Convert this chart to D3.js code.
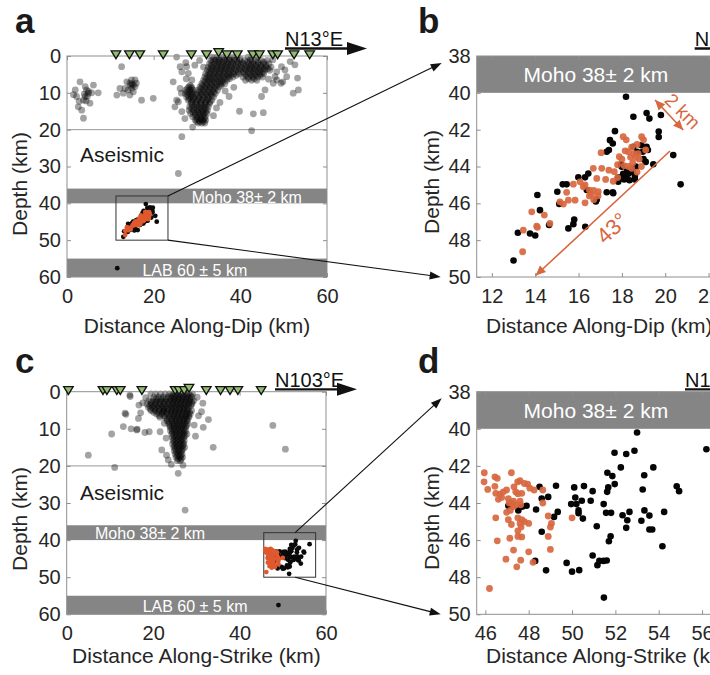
<!DOCTYPE html>
<html><head><meta charset="utf-8">
<script src="https://cdn.jsdelivr.net/npm/d3@7"></script>
<style>body{margin:0;background:#fff}svg{display:block;font-family:"Liberation Sans",Arial,Helvetica,sans-serif}</style>
</head><body><svg id="fig" width="710" height="675"></svg>
<script>
// ---------------- DATA ----------------
// stations (distance km, elevation as negative depth km)
const dipStations = [[11.3,-0.3],[14.4,-0.3],[16.8,-0.3],[22.2,-0.3],[28.7,-0.3],[32.2,-0.3],[35.0,-0.9],[36.9,-0.3],[39.3,-0.3],[42.9,-0.3],[44.4,-0.3],[47.5,-0.3],[48.6,-0.3],[52.4,-0.3],[56.0,-0.3]];
const strikeStations = [[0.4,-0.3],[8.4,-0.3],[9.3,-0.3],[11.6,-0.3],[12.4,-0.3],[17.4,-0.3],[25.1,-0.3],[26.0,-0.3],[27.2,-0.3],[28.3,-0.9],[32.3,-0.3],[35.6,-0.3],[37.8,-0.3],[39.6,-0.3],[45.0,-0.3]];

// shallow seismicity, along-dip section (scattered events)
const dipShallowScatter = [[1.5,10.5],[1.9,9.2],[2.2,11],[2.6,13.8],[3.0,7.0],[3.4,14.7],[3.8,12],[3.8,16.9],[4.2,8.3],[4.2,11],[4.5,9.2],[4.7,11],[4.9,10.1],[5.3,12.8],[5.7,10],[6.1,7.9],[7.2,10],[2.8,12.3],[4.0,10.3],[5.0,9.6],[4.4,12.2],
[11.5,10.6],[12.2,8.8],[12.6,2.9],[13.4,8.8],[13.8,7.0],[14.5,7.4],[14.9,6.5],[15.3,7.9],[15.7,8.3],[14.9,8.8],[14.1,9.2],[15.3,9.7],[15.7,6.5],[13.0,10.1],[14.5,10.6],[17.2,12],[19.9,11.5],[16.0,7.4],[14.7,8.0],[15.0,7.6],
[25.3,0.3],[24.5,7.0],[24.9,13.8],[25.7,12.4],[26.1,8.8],[26.4,10.1],[26.5,15.1],[27.6,2.9],[28.0,4.7],[28.8,6.5],[29.9,17.8],[26.1,2.9],[26.5,4.3],[27.4,1.8],[25.3,12],[26.5,21.9],[25.7,31.9],
[39.8,15],[42.6,20.3],[43.0,15.7],[45.3,15.4],[44.9,11],[45.7,9.2],[47.6,7.4],[49.5,2.9],[50.3,3.8],[50.7,5.6],[51.5,1.5],[53.2,6],[53.4,9.2],[52.2,10.1],[52.6,2.4],[48.4,4.3],[48,5.6],[49.4,7.4],[49.8,7.0],[48.4,6.5],[47.5,1.0],[46.5,6.3],[38.5,8.5],[36.5,9.5],[37.4,11.0],[35.3,12.6],[34.5,14.1],[33.8,16.2],[29.0,19.3],[27.2,17.0],[27.5,6.2],[29.5,2.5],[30.6,1.2],[31.5,3.0]];
// shallow seismicity, along-dip section (dense cluster, listed by depth row: [depth, distances])
const dipShallowRows = [
 [0.3,[33.5,34.6,35.8,36.9,38.1,39.4,41.8,43.9]],
 [1.2,[33.2,34.3,35.2,36.4,37.5,38.6,39.8,41.0,42.3,43.5,44.8,46.2]],
 [2.1,[32.9,34.0,35.1,36.2,37.2,38.3,39.5,40.7,41.9,43.0,44.1,45.3,46.6]],
 [3.0,[32.6,33.7,34.7,35.8,36.9,38.0,39.2,40.4,41.6,42.7,43.8,44.9,46.0,47.1]],
 [3.9,[32.4,33.4,34.5,35.6,36.7,37.8,38.9,40.1,41.3,42.4,43.5,44.6,45.7,46.8]],
 [4.8,[32.0,33.1,34.2,35.3,36.4,37.5,38.5,39.7,41.0,42.2,43.3,44.4,45.4]],
 [5.7,[31.8,32.8,33.9,35.0,36.1,37.2,38.3,40.6,41.8,42.9,44.0,45.1]],
 [6.6,[31.5,32.6,33.6,34.7,35.8,36.9,41.2,42.6,43.8]],
 [7.5,[31.1,32.2,33.3,34.4,35.5,36.4]],
 [8.4,[28.1,28.7,30.7,31.8,32.9,34.0,35.1]],
 [9.3,[27.4,28.4,29.2,30.3,31.4,32.5,33.6,34.7]],
 [10.2,[27.3,28.3,29.0,29.9,31.0,32.1,33.2,34.2]],
 [11.1,[27.6,28.6,29.5,30.6,31.7,32.8,33.8]],
 [12.0,[28.0,29.0,30.1,31.2,32.4,33.4]],
 [12.9,[28.6,29.7,30.8,31.9,32.9]],
 [13.8,[28.3,29.4,30.5,31.6,32.6]],
 [14.7,[28.2,29.3,30.4,31.4,32.4]],
 [15.6,[28.5,29.6,30.6,31.6,32.3]],
 [16.5,[29.0,30.0,31.0,31.9]],
 [17.4,[29.6,30.5,31.3,32.0]],
 [18.2,[30.3,31.1,31.8]],
 [0.75,[33.9,35.0,36.2,37.4,38.6,39.9,42.4]],
 [1.65,[33.6,34.8,35.8,36.9,38.0,39.2,40.3,41.6,42.8,44.1,45.4]],
 [2.55,[33.3,34.5,35.6,36.7,37.8,38.9,40.1,41.3,42.4,43.5,44.7,45.9]],
 [3.45,[33.1,34.2,35.3,36.3,37.4,38.6,39.8,41.0,42.1,43.2,44.3,45.4,46.4]],
 [4.35,[32.8,33.9,35.0,36.1,37.2,38.3,39.5,40.7,41.8,42.9,44.0,45.1]],
 [5.25,[32.5,33.6,34.7,35.8,36.9,37.9,39.1,41.3,42.5,43.6,44.6]],
 [6.15,[32.2,33.2,34.3,35.4,36.5,37.5,41.9,43.2]],
 [7.05,[31.8,32.9,34.0,35.1,36.0]],
 [7.95,[28.4,31.3,32.4,33.5,34.6,35.6]],
 [8.85,[27.8,28.8,30.9,32.0,33.1,34.2]],
 [9.75,[27.8,28.8,30.6,31.7,32.8,33.9]],
 [10.65,[27.9,28.9,30.2,31.3,32.4,33.4]],
 [11.55,[28.2,29.2,30.3,31.4,32.5]],
 [12.45,[28.7,29.8,30.9,32.0,33.0]],
 [13.35,[28.9,30.0,31.1,32.1]],
 [14.25,[28.8,29.9,30.9,31.9]],
 [15.15,[29.0,30.1,31.1,32.0]],
 [16.05,[29.5,30.5,31.4]],
 [16.95,[30.0,30.9,31.7]],
 [17.8,[30.6,31.5]]];

// shallow seismicity, along-strike section
const strikeShallowScatter = [[14.7,1.3],[16.7,3.6],[17.1,5.7],[13.7,6.1],[13.1,9.4],[14.9,10],[16.3,10.1],[10.4,11.4],[18.1,11],[19.1,10.8],[5.0,17.1],[11.1,20.4],[33.9,15],[47.7,9.1],[50.6,15.5],[32.8,7.5],[31.6,9.6],[31.2,5.4],[31.5,3.1],[22.4,5.4],[21.6,10.8],[22.0,15.7],[23.1,17.1],[23.5,18.4],[27.4,31.9],[25.8,22],[16.6,7.2],[16.2,10.3],[13.5,5.8],[14.6,0.9],[30.2,1.5],[30.5,6.5],[29.8,12],[29.5,9],[23.0,12.5],[22.6,8.5],[24.2,19.6],[26.9,19.8],[18.3,1.6],[17.6,3.0]];
const strikeShallowRows = [
 [0.6,[19.5,20.6,21.7,22.8,23.8,24.7,25.6,26.5,27.4,28.3,29.1]],
 [1.5,[20.2,21.3,22.4,23.5,24.4,25.3,26.2,27.1,28.0,28.9]],
 [2.4,[19.0,20.0,21.0,22.0,23.0,24.0,24.9,25.8,26.7,27.6,28.5,29.4]],
 [3.3,[18.6,19.6,20.6,21.6,22.6,23.7,24.6,25.5,26.4,27.3,28.2,29.0]],
 [4.2,[18.9,19.9,20.9,21.9,22.8,23.8,24.7,25.6,26.5,27.4,28.3]],
 [5.1,[19.5,20.5,21.5,22.5,23.5,24.4,25.3,26.2,27.1,28.0,28.9]],
 [6.0,[20.8,22.0,23.2,24.2,25.1,26.0,26.9,27.8,28.6]],
 [6.9,[21.6,22.8,23.8,24.8,25.7,26.6,27.5,28.3]],
 [7.8,[23.2,24.3,25.2,26.1,27.0,27.9]],
 [8.7,[23.6,24.5,25.4,26.3,27.2,28.0]],
 [9.6,[23.9,24.8,25.7,26.6,27.5]],
 [10.5,[24.0,24.9,25.8,26.7,27.5]],
 [11.4,[24.3,25.2,26.1,27.0,27.8]],
 [12.3,[24.4,25.3,26.2,27.1]],
 [13.2,[24.6,25.5,26.4,27.2]],
 [14.1,[24.5,25.4,26.3,27.1]],
 [15.0,[24.8,25.6,26.5,27.3]],
 [15.9,[24.9,25.8,26.6]],
 [16.8,[25.1,25.9,26.7]],
 [17.7,[25.3,26.1,26.8]],
 [18.6,[25.6,26.3]],
 [1.05,[24.2,25.1,26.0,26.9,27.8,28.7]],
 [1.95,[20.7,21.8,22.9,24.0,24.9,25.8,26.7,27.6,28.5]],
 [2.85,[19.5,20.5,21.5,22.5,23.5,24.5,25.4,26.3,27.2,28.1,29.0]],
 [3.75,[19.2,20.2,21.2,22.2,23.2,24.2,25.1,26.0,26.9,27.8,28.7]],
 [4.65,[19.4,20.4,21.4,22.4,23.3,24.3,25.2,26.1,27.0,27.9]],
 [5.55,[20.1,21.1,22.1,23.1,24.0,24.9,25.8,26.7,27.6,28.4]],
 [6.45,[21.4,22.5,23.7,24.7,25.6,26.5,27.4,28.2]],
 [7.35,[23.3,24.3,25.2,26.2,27.1,27.9]],
 [8.25,[23.7,24.8,25.7,26.6,27.5]],
 [9.15,[24.0,25.0,25.9,26.8,27.7]],
 [10.05,[24.4,25.3,26.2,27.1]],
 [10.95,[24.5,25.4,26.3,27.2]],
 [11.85,[24.8,25.7,26.6,27.4]],
 [12.75,[24.9,25.8,26.7]],
 [13.65,[25.0,25.9,26.8]],
 [14.55,[25.0,25.9,26.8]],
 [15.45,[25.2,26.1,26.9]],
 [16.35,[25.4,26.3]],
 [17.25,[25.6,26.4]],
 [18.15,[25.8,26.5]]];

// deep (mantle) events along dip
const dipBlack = [[13.0,49.1],[13.2,47.6],[13.76,47.64],[14.0,47.75],[14.1,45.55],[14.22,46.37],[14.64,47.18],[15.02,45.37],[15.11,46.04],[15.27,44.97],[15.45,44.97],[15.53,47.36],[15.76,47.13],[15.8,46.88],[15.99,44.59],[16.3,44.59],[16.45,44.38],[16.31,47.27],[16.38,45.28],[16.84,45.79],[16.8,45.9],[17.3,43.2],[17.4,43.1],[17.45,42.57],[17.58,42.75],[17.68,42.08],[17.3,45.4],[17.58,45.4],[17.83,44.83],[17.83,44.6],[17.99,44.01],[18.06,44.4],[18.19,40.21],[18.2,44.65],[18.3,44.4],[18.35,44.75],[18.45,44.1],[18.53,42.93],[18.6,44.5],[18.65,44.0],[18.7,43.2],[18.96,43.2],[18.9,42.85],[19.0,43.6],[19.1,43.75],[19.14,42.93],[19.2,43.1],[18.53,41.3],[19.14,41.1],[19.27,41.4],[19.45,43.88],[19.7,42.1],[19.7,42.4],[19.8,41.2],[20.37,43.38],[20.71,44.97],[17.96,43.9],[18.25,44.2],[18.5,44.3],[17.9,44.6],[18.1,44.7],[18.6,44.7],[17.6,45.45],[11.6,57.6]];
const dipOrange = [[13.45,47.46],[13.42,48.63],[13.84,46.46],[14.07,47.24],[14.1,47.3],[14.42,46.64],[14.68,47.09],[15.14,45.92],[15.3,46.04],[15.53,45.83],[15.84,45.83],[16.3,45.97],[15.45,45.4],[15.76,44.96],[16.07,44.83],[16.22,45.1],[16.3,45.0],[16.5,45.28],[16.6,45.5],[16.7,45.3],[16.91,45.37],[16.9,45.6],[16.7,45.8],[16.5,45.6],[16.84,44.65],[16.68,44.1],[17.07,44.1],[17.25,44.7],[17.04,43.25],[17.65,44.28],[17.8,43.9],[17.88,43.47],[18.0,43.6],[18.06,42.38],[18.2,42.55],[18.15,43.15],[18.3,43.2],[18.4,43.5],[18.45,42.95],[18.55,43.3],[18.65,43.5],[18.7,42.8],[18.75,43.3],[18.8,43.6],[18.1,43.95],[18.3,44.0],[18.45,44.1],[18.5,43.8],[18.91,42.38],[19.0,42.55],[19.1,43.1],[18.9,44.0],[18.7,44.3],[17.8,44.6],[17.6,44.8],[17.4,44.2]];
// deep (mantle) events along strike
const strikeBlack = [[48.5,43.13],[48.6,43.76],[48.9,43.67],[49.26,43.07],[48.6,45.55],[47.06,44.15],[47.52,44.4],[47.7,44.2],[47.9,44.15],[48.34,44.35],[49.17,44.75],[49.34,44.48],[48.8,47.63],[48.3,47.12],[49.75,47.23],[50.0,47.7],[50.33,47.62],[50.1,43.16],[50.15,43.7],[49.96,44.06],[50.2,44.06],[50.3,44.4],[50.3,44.55],[50.45,43.88],[50.55,43.09],[50.86,43.88],[50.95,43.36],[50.5,44.84],[51.14,45.25],[50.95,46.83],[51.17,47.35],[51.26,47.12],[51.45,47.12],[51.6,47.1],[51.46,44.06],[51.57,44.53],[51.8,44.53],[51.63,42.37],[51.67,43.16],[51.62,43.4],[51.78,45.79],[51.7,46.06],[51.86,42.55],[51.96,41.29],[51.97,42.98],[51.47,49.1],[52.25,42.08],[52.33,44.66],[52.55,44.93],[52.5,41.36],[52.5,45.34],[52.65,44.48],[52.88,41.18],[53.0,40.2],[53.2,44.96],[53.26,43.27],[53.33,42.5],[53.34,44.4],[53.57,44.68],[53.57,45.43],[53.7,45.43],[53.75,42.08],[54.17,46.33],[54.25,44.48],[54.83,43.1],[54.94,43.36],[56.2,41.1],[49.0,57.5]];
const strikeOrange = [[45.95,42.37],[45.94,42.86],[46.11,43.27],[46.44,42.59],[46.55,42.67],[46.44,43.1],[46.48,43.48],[46.68,43.52],[46.83,43.4],[46.75,43.7],[46.6,43.8],[46.98,43.3],[47.2,42.37],[47.06,43.76],[47.1,44.0],[47.3,43.9],[47.32,43.13],[47.4,43.4],[47.5,43.5],[47.49,42.86],[47.6,42.8],[47.68,43.48],[47.6,43.9],[47.63,44.1],[47.4,44.1],[47.3,44.2],[47.2,44.0],[47.15,44.4],[47.8,42.95],[47.95,42.98],[48.05,43.2],[48.25,43.3],[48.65,43.3],[46.48,44.8],[46.98,44.5],[47.06,44.9],[47.2,45.16],[47.5,44.8],[47.68,44.9],[47.6,45.1],[47.65,45.3],[47.8,45.0],[48.0,45.1],[47.5,45.5],[47.68,45.83],[47.5,45.8],[47.13,45.9],[46.55,46.04],[47.3,46.54],[48.0,46.63],[47.63,47.08],[46.95,47.03],[47.45,47.44],[48.2,47.2],[46.19,48.61],[48.9,44.7],[49.05,45.1],[49.0,45.3],[48.9,45.8],[49.0,46.5],[50.0,44.8],[48.65,44.0]];

const bandsCrust = [{name:"Moho 38\u00b1 2 km", top:36, bottom:40},{name:"LAB 60 \u00b1 5 km", top:55, bottom:60}];
const ticks0to60 = [0,10,20,30,40,50,60];
const ticksDist = [0,20,40,60];
const ticksZoomY = [38,40,42,44,46,48,50];
const ticksDipZoom = [12,14,16,18,20,22];
const ticksStrikeZoom = [46,48,50,52,54,56];

// ---------------- DRAWING ----------------
const svg = d3.select('#fig');
const TXT = '#262626', FRAME = '#8f8f8f', BAND = '#858585', ORANGE = '#d8673f', GREEN = '#92bd6e';
const rows = r => r.flatMap(([d, xs]) => xs.map(x => [x, d]));

function axes(g, x, y, xt, yt) {
  const xa = g.append('g').attr('transform', `translate(0,${y.range()[0]})`)
    .call(d3.axisBottom(x).tickValues(xt).tickSizeInner(-4).tickSizeOuter(0).tickPadding(12));
  const ya = g.append('g').attr('transform', `translate(${x.range()[0]},0)`)
    .call(d3.axisLeft(y).tickValues(yt).tickSizeInner(-4).tickSizeOuter(0).tickPadding(6));
  const xt2 = g.append('g').attr('transform', `translate(0,${y.range()[1]})`)
    .call(d3.axisTop(x).tickValues(xt).tickSizeInner(-4).tickSizeOuter(0).tickFormat(''));
  const yt2 = g.append('g').attr('transform', `translate(${x.range()[1]},0)`)
    .call(d3.axisRight(y).tickValues(yt).tickSizeInner(-4).tickSizeOuter(0).tickFormat(''));
  [xa, ya, xt2, yt2].forEach(a => {
    a.select('.domain').remove();
    a.selectAll('line').attr('stroke', FRAME);
    a.selectAll('text').attr('fill', TXT).style('font-size', '20px').style('font-family', 'Liberation Sans, Arial, sans-serif');
  });
  g.append('rect').attr('x', x.range()[0]).attr('y', y.range()[1])
    .attr('width', x.range()[1] - x.range()[0]).attr('height', y.range()[0] - y.range()[1])
    .attr('fill', 'none').attr('stroke', FRAME).attr('stroke-width', 1);
}

function dirArrow(g, x0, yLine, label) {
  g.append('text').attr('x', x0).attr('y', yLine - 2.5).attr('fill', '#111').style('font-size', '20px').text(label);
  g.append('line').attr('x1', x0).attr('x2', x0 + 66).attr('y1', yLine).attr('y2', yLine).attr('stroke', '#111').attr('stroke-width', 2.3);
  g.append('path').attr('d', `M${x0 + 62},${yLine - 6.5}L${x0 + 82},${yLine}L${x0 + 62},${yLine + 6.5}Z`).attr('fill', '#111');
}

function overview(o) {
  const x = d3.scaleLinear().domain([0, 60]).range(o.xr);
  const y = d3.scaleLinear().domain([60, 0]).range(o.yr);
  const g = svg.append('g');
  g.selectAll('rect.band').data(bandsCrust).join('rect').attr('class', 'band')
    .attr('x', x(0)).attr('width', x(60) - x(0)).attr('y', d => y(d.top)).attr('height', d => y(d.bottom) - y(d.top)).attr('fill', BAND);
  g.append('line').attr('x1', x(0)).attr('x2', x(60)).attr('y1', y(20)).attr('y2', y(20)).attr('stroke', '#9a9a9a').attr('stroke-width', 1);
  g.append('g').selectAll('circle').data(o.shallow).join('circle')
    .attr('cx', d => x(d[0])).attr('cy', d => y(d[1])).attr('r', 3.4).attr('fill', '#000').attr('fill-opacity', 0.36);
  g.append('rect').attr('x', x(o.box[0])).attr('y', y(38)).attr('width', x(o.box[1]) - x(o.box[0])).attr('height', y(50) - y(38))
    .attr('fill', 'none').attr('stroke', '#333').attr('stroke-width', 1);
  g.append('g').selectAll('circle').data(o.black).join('circle')
    .attr('cx', d => x(d[0])).attr('cy', d => y(d[1])).attr('r', 2.4).attr('fill', '#0a0a0a');
  g.append('g').selectAll('circle').data(o.orange).join('circle')
    .attr('cx', d => x(d[0])).attr('cy', d => y(d[1])).attr('r', 2.4).attr('fill', '#e0592e');
  o.bandLabels.forEach(b => g.append('text').attr('x', x(b.x)).attr('y', y(b.d)).attr('text-anchor', 'middle')
    .attr('fill', '#fff').style('font-size', '16px').text(b.t));
  g.append('text').attr('x', x(o.aseismic[0])).attr('y', y(o.aseismic[1])).attr('fill', '#1a1a1a').style('font-size', '21px').text('Aseismic');
  axes(g, x, y, ticksDist, ticks0to60);
  g.append('g').selectAll('path').data(o.stations).join('path')
    .attr('d', d => { const cx = x(d[0]), cy = y(d[1]); return `M${cx - 4.8},${cy - 4}L${cx + 4.8},${cy - 4}L${cx},${cy + 3.8}Z`; })
    .attr('fill', GREEN).attr('stroke', '#111').attr('stroke-width', 1.3);
  g.append('text').attr('transform', `translate(19,${o.ylabY}) rotate(-90)`).attr('text-anchor', 'middle').attr('dominant-baseline', 'central')
    .attr('fill', TXT).style('font-size', '21px').text('Depth (km)');
  g.append('text').attr('x', (o.xr[0] + o.xr[1]) / 2).attr('y', o.xlabY).attr('text-anchor', 'middle').attr('fill', TXT).style('font-size', '21px').text(o.xlab);
  g.append('text').attr('x', 15).attr('y', o.letterY).attr('fill', '#1a1a1a').style('font-size', '35px').style('font-weight', 'bold').text(o.letter);
  dirArrow(g, x(0) + o.dirOff, o.dirY, o.dir);
  return { x, y };
}

function zoomPanel(o) {
  const x = d3.scaleLinear().domain(o.xd).range([476.7, 476.7 + 12 * 21.67]);
  const y = d3.scaleLinear().domain([50, 38]).range(o.yr);
  const g = svg.append('g');
  const cid = 'clip' + o.letter;
  svg.append('clipPath').attr('id', cid).append('rect').attr('x', x.range()[0]).attr('y', y(38) - 1)
    .attr('width', x.range()[1] - x.range()[0]).attr('height', y(50) - y(38) + 2);
  const pg = g.append('g').attr('clip-path', `url(#${cid})`);
  pg.append('rect').attr('x', x(o.xd[0])).attr('width', x(o.xd[1]) - x(o.xd[0])).attr('y', y(38)).attr('height', y(40) - y(38)).attr('fill', BAND);
  pg.append('g').selectAll('circle').data(o.black).join('circle')
    .attr('cx', d => x(d[0])).attr('cy', d => y(d[1])).attr('r', 3.3).attr('fill', '#050505');
  pg.append('g').selectAll('circle').data(o.orange).join('circle')
    .attr('cx', d => x(d[0])).attr('cy', d => y(d[1])).attr('r', 3.4).attr('fill', ORANGE).attr('fill-opacity', 0.92);
  g.append('text').attr('x', x(o.mohoX)).attr('y', y(39) + 8).attr('text-anchor', 'middle').attr('fill', '#fff').style('font-size', '21px').text('Moho 38\u00b1 2 km');
  axes(g, x, y, o.xt, ticksZoomY);
  g.append('text').attr('transform', `translate(431,${o.ylabY}) rotate(-90)`).attr('text-anchor', 'middle').attr('dominant-baseline', 'central')
    .attr('fill', TXT).style('font-size', '21px').text('Depth (km)');
  g.append('text').attr('x', 486).attr('y', o.xlabY).attr('fill', TXT).style('font-size', '21px').text(o.xlab);
  g.append('text').attr('x', 418).attr('y', o.letterY).attr('fill', '#1a1a1a').style('font-size', '35px').style('font-weight', 'bold').text(o.letter);
  dirArrow(g, x.range()[0] + o.dirOff, o.dirY, o.dir);
  return { x, y, g };
}

function connector(x1, y1, x2, y2) {
  const a = Math.atan2(y2 - y1, x2 - x1), L = 11, w = 4;
  svg.append('line').attr('x1', x1).attr('y1', y1).attr('x2', x2 - L * Math.cos(a) * 0.8).attr('y2', y2 - L * Math.sin(a) * 0.8).attr('stroke', '#111').attr('stroke-width', 1.1);
  const bx = x2 - L * Math.cos(a), by = y2 - L * Math.sin(a);
  svg.append('path').attr('d', `M${x2},${y2}L${bx - w * Math.sin(a)},${by + w * Math.cos(a)}L${bx + w * Math.sin(a)},${by - w * Math.cos(a)}Z`).attr('fill', '#111');
}

const A = overview({ xr: [67, 327], yr: [277, 56], shallow: dipShallowScatter.concat(rows(dipShallowRows)), stations: dipStations,
  black: dipBlack, orange: dipOrange, box: [11.3, 23.3],
  bandLabels: [{ x: 41.5, d: 39.9, t: 'Moho 38\u00b1 2 km' }, { x: 29.5, d: 59.8, t: 'LAB 60 \u00b1 5 km' }],
  aseismic: [3.0, 28.7], ylabY: 184, xlabY: 333, xlab: 'Distance Along-Dip (km)', letter: 'a', letterY: 33, dirOff: 218, dirY: 48.5, dir: 'N13\u00b0E' });
const C = overview({ xr: [66.7, 326], yr: [614.3, 391.7], shallow: strikeShallowScatter.concat(rows(strikeShallowRows)), stations: strikeStations,
  black: strikeBlack, orange: strikeOrange, box: [45.6, 57.6],
  bandLabels: [{ x: 19.3, d: 39.6, t: 'Moho 38\u00b1 2 km' }, { x: 29.7, d: 59.4, t: 'LAB 60 \u00b1 5 km' }],
  aseismic: [3.1, 29.2], ylabY: 519, xlabY: 663, xlab: 'Distance Along-Strike (km)', letter: 'c', letterY: 373, dirOff: 208.3, dirY: 389.3, dir: 'N103\u00b0E' });
const B = zoomPanel({ xd: [11.3, 23.3], yr: [277, 56], black: dipBlack, orange: dipOrange, xt: ticksDipZoom, mohoX: 16.8,
  ylabY: 182, xlabY: 333, xlab: 'Distance Along-Dip (km)', letter: 'b', letterY: 33, dirOff: 218, dirY: 48.5, dir: 'N13\u00b0E' });
const D = zoomPanel({ xd: [45.6, 57.6], yr: [614.3, 391.7], black: strikeBlack, orange: strikeOrange, xt: ticksStrikeZoom, mohoX: 51.1,
  ylabY: 518, xlabY: 663, xlab: 'Distance Along-Strike (km)', letter: 'd', letterY: 373, dirOff: 208.3, dirY: 389.3, dir: 'N103\u00b0E' });

function orangeArrow(g, x1, y1, x2, y2, both) {
  const head = (xa, ya, xb, yb) => { const a = Math.atan2(yb - ya, xb - xa), L = 10, w = 4.5; const bx = xb - L * Math.cos(a), by = yb - L * Math.sin(a);
    g.append('path').attr('d', `M${xb},${yb}L${bx - w * Math.sin(a)},${by + w * Math.cos(a)}L${bx + w * Math.sin(a)},${by - w * Math.cos(a)}Z`).attr('fill', ORANGE); };
  g.append('line').attr('x1', x1).attr('y1', y1).attr('x2', x2).attr('y2', y2).attr('stroke', ORANGE).attr('stroke-width', 1.6);
  head(x1, y1, x2, y2); if (both) head(x2, y2, x1, y1);
}
orangeArrow(B.g, B.x(20.22), B.y(43.16), B.x(14.02), B.y(49.92), false);
orangeArrow(B.g, B.x(19.53), B.y(40.39), B.x(20.83), B.y(42.02), true);
B.g.append('text').attr('transform', `translate(${B.x(17.55)},${B.y(47.35)}) rotate(-43)`).attr('text-anchor', 'middle').attr('dominant-baseline', 'central')
  .attr('fill', ORANGE).style('font-size', '22px').text('43\u00b0');
B.g.append('text').attr('transform', `translate(${B.x(20.8)},${B.y(41.0)}) rotate(45)`).attr('text-anchor', 'middle').attr('dominant-baseline', 'central')
  .attr('fill', ORANGE).style('font-size', '19px').text('2 km');

connector(A.x(23.3), A.y(38), B.x.range()[0] - 35, B.y(38) + 7);
connector(A.x(23.3), A.y(50), B.x.range()[0] - 36, B.y(50));
connector(C.x(52.85), C.y(38), D.x.range()[0] - 35, D.y(38) + 6.5);
connector(C.x(52.85), C.y(50), D.x.range()[0] - 36, D.y(50));
</script></body></html>
